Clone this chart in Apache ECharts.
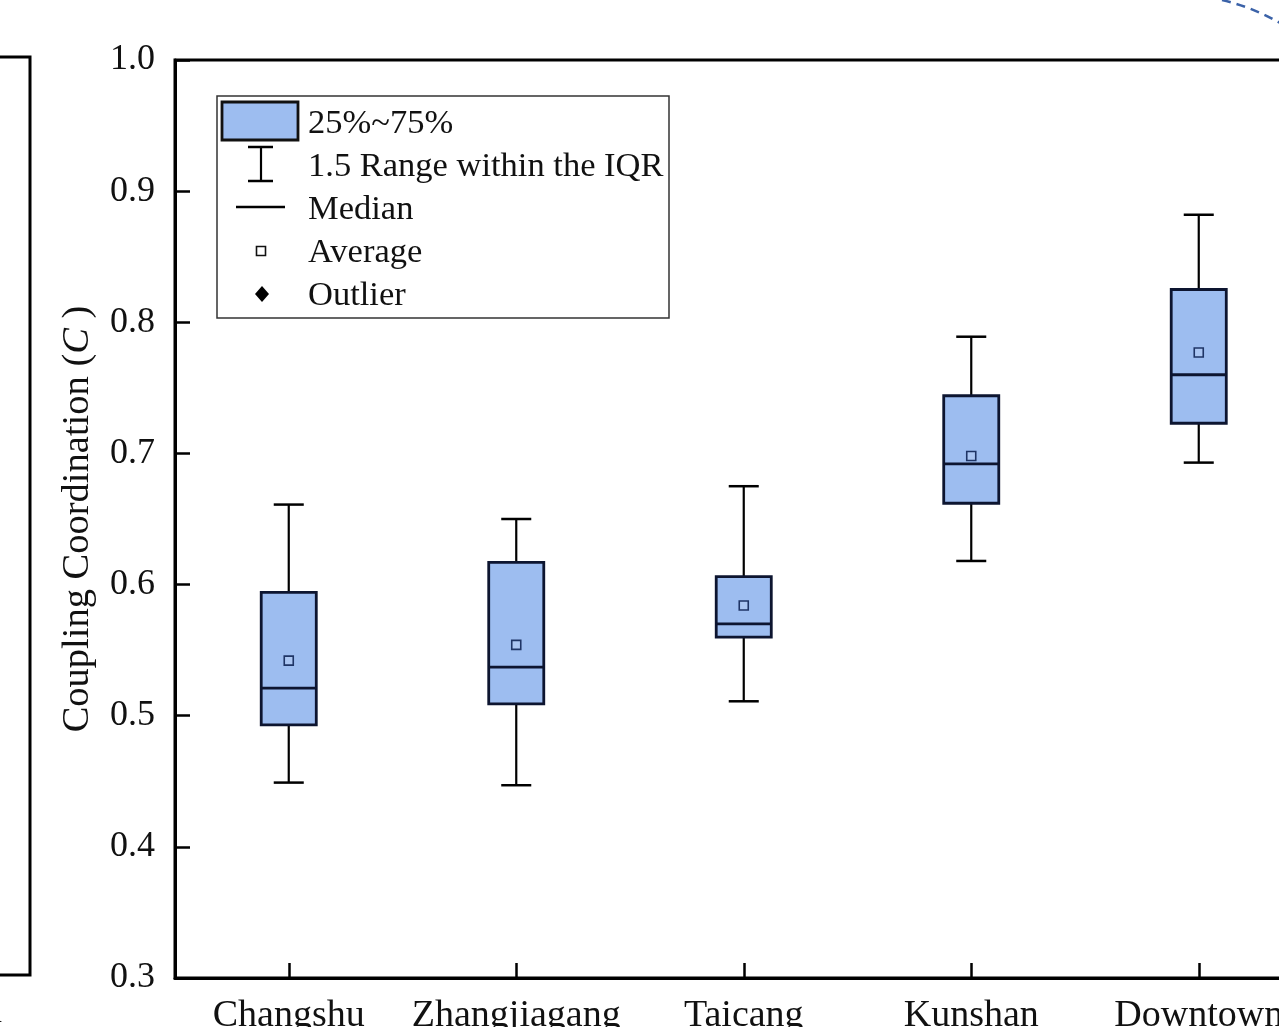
<!DOCTYPE html>
<html>
<head>
<meta charset="utf-8">
<script src="https://cdn.jsdelivr.net/npm/echarts@6/dist/echarts.min.js"></script>
<style>
html,body{margin:0;padding:0;background:#fff;}
#chart{width:1279px;height:1027px;}
</style>
</head>
<body>
<div id="chart"></div>
<script>
// ---- data ----
var categories = ['Changshu', 'Zhangjiagang', 'Taicang', 'Kunshan', 'Downtown'];
var lowerWhisker = [0.449, 0.447, 0.511, 0.618, 0.693];
var q1Values     = [0.493, 0.509, 0.560, 0.662, 0.723];
var medianValues = [0.521, 0.537, 0.570, 0.692, 0.760];
var q3Values     = [0.594, 0.617, 0.606, 0.744, 0.825];
var upperWhisker = [0.661, 0.650, 0.675, 0.789, 0.882];
var meanValues   = [0.542, 0.554, 0.584, 0.698, 0.777];
var yTicks = { min: 0.3, max: 1.0, interval: 0.1 };
var legendLabels = ['25%~75%', '1.5 Range within the IQR', 'Median', 'Average', 'Outlier'];

var BOX_FILL = '#9dbdf0';
var BOX_EDGE = '#0d1530';
var SERIF = "'Liberation Serif', 'DejaVu Serif', serif";

var boxData = categories.map(function (c, i) {
  return [i, lowerWhisker[i], q1Values[i], medianValues[i], q3Values[i], upperWhisker[i], meanValues[i]];
});

function renderBox(params, api) {
  var idx = api.value(0);
  var pLow = api.coord([idx, api.value(1)]);
  var pQ1 = api.coord([idx, api.value(2)]);
  var pMed = api.coord([idx, api.value(3)]);
  var pQ3 = api.coord([idx, api.value(4)]);
  var pHigh = api.coord([idx, api.value(5)]);
  var pMean = api.coord([idx, api.value(6)]);
  var band = api.size([1, 0])[0];
  var bw = band * 0.242;
  var cw = band * 0.132;
  var x = pQ1[0];
  var ms = 9;
  return {
    type: 'group',
    children: [
      { type: 'line', shape: { x1: x, y1: pQ3[1], x2: x, y2: pHigh[1] }, style: { stroke: '#000', lineWidth: 2.2 } },
      { type: 'line', shape: { x1: x, y1: pQ1[1], x2: x, y2: pLow[1] }, style: { stroke: '#000', lineWidth: 2.2 } },
      { type: 'line', shape: { x1: x - cw / 2, y1: pHigh[1], x2: x + cw / 2, y2: pHigh[1] }, style: { stroke: '#000', lineWidth: 2.5 } },
      { type: 'line', shape: { x1: x - cw / 2, y1: pLow[1], x2: x + cw / 2, y2: pLow[1] }, style: { stroke: '#000', lineWidth: 2.5 } },
      { type: 'rect', shape: { x: x - bw / 2, y: pQ3[1], width: bw, height: pQ1[1] - pQ3[1] },
        style: { fill: BOX_FILL, stroke: BOX_EDGE, lineWidth: 2.8 } },
      { type: 'line', shape: { x1: x - bw / 2, y1: pMed[1], x2: x + bw / 2, y2: pMed[1] }, style: { stroke: BOX_EDGE, lineWidth: 2.8 } },
      { type: 'rect', shape: { x: pMean[0] - ms / 2, y: pMean[1] - ms / 2, width: ms, height: ms },
        style: { fill: 'rgba(255,255,255,0.15)', stroke: '#1f3566', lineWidth: 1.6 } }
    ]
  };
}

var chart = echarts.init(document.getElementById('chart'), null, { renderer: 'canvas' });

var rowY = [124, 167, 210, 253, 296];

function legendText(i) {
  return { type: 'text', x: 308, y: rowY[i], style: { text: legendLabels[i], font: '34.5px ' + SERIF, fill: '#111', textVerticalAlign: 'middle' }, z: 11 };
}

var option = {
  backgroundColor: '#fff',
  animation: false,
  grid: { left: 175, top: 60, width: 1137.5, height: 918, outerBoundsMode: 'none', containLabel: false,
    show: true, borderColor: '#000', borderWidth: 3, backgroundColor: 'transparent' },
  xAxis: {
    type: 'category',
    data: categories,
    boundaryGap: true,
    axisLine: { show: true, lineStyle: { color: '#000', width: 3 } },
    axisTick: { show: true, inside: true, alignWithLabel: true, interval: 0, length: 15, lineStyle: { color: '#000', width: 2.5 } },
    axisLabel: { show: true, interval: 0, hideOverlap: false, color: '#111', fontFamily: SERIF, fontSize: 38, margin: 19 },
    splitLine: { show: false }
  },
  yAxis: {
    type: 'value',
    min: yTicks.min, max: yTicks.max, interval: yTicks.interval,
    name: '{a|Coupling Coordination (}{b|C}{a| )}',
    nameLocation: 'middle',
    nameGap: 78,
    nameTextStyle: {
      rich: {
        a: { fontFamily: SERIF, fontSize: 38.5, color: '#111' },
        b: { fontFamily: SERIF, fontSize: 38.5, color: '#111', fontStyle: 'italic' }
      }
    },
    axisLine: { show: true, lineStyle: { color: '#000', width: 3 } },
    axisTick: { show: true, inside: true, length: 15, lineStyle: { color: '#000', width: 2.5 } },
    axisLabel: { color: '#111', fontFamily: SERIF, fontSize: 36, margin: 20,
      formatter: function (v) { return v.toFixed(1); } },
    splitLine: { show: false }
  },
  series: [{
    type: 'custom',
    renderItem: renderBox,
    data: boxData,
    encode: { x: 0, y: [1, 2, 3, 4, 5, 6] },
    z: 5
  }],
  graphic: [
    { type: 'rect', shape: { x: 217, y: 96, width: 452, height: 222 }, style: { fill: '#fff', stroke: '#333', lineWidth: 1.5 }, z: 10 },
    { type: 'rect', shape: { x: 222, y: 102, width: 76, height: 38 }, style: { fill: BOX_FILL, stroke: '#111', lineWidth: 2.8 }, z: 11 },
    { type: 'line', shape: { x1: 261, y1: 147, x2: 261, y2: 181 }, style: { stroke: '#000', lineWidth: 2.2 }, z: 11 },
    { type: 'line', shape: { x1: 248, y1: 147, x2: 273, y2: 147 }, style: { stroke: '#000', lineWidth: 2.5 }, z: 11 },
    { type: 'line', shape: { x1: 248, y1: 181, x2: 273, y2: 181 }, style: { stroke: '#000', lineWidth: 2.5 }, z: 11 },
    { type: 'line', shape: { x1: 236, y1: 207, x2: 285, y2: 207 }, style: { stroke: '#000', lineWidth: 2.5 }, z: 11 },
    { type: 'rect', shape: { x: 256.5, y: 246.5, width: 9, height: 9 }, style: { fill: '#fff', stroke: '#111', lineWidth: 1.6 }, z: 11 },
    { type: 'polygon', shape: { points: [[262, 286], [269, 294], [262, 302], [255, 294]] }, style: { fill: '#000' }, z: 11 },
    legendText(0), legendText(1), legendText(2), legendText(3), legendText(4),
    { type: 'polyline', shape: { points: [[-5, 57], [30, 57], [30, 975], [-5, 975]] }, style: { stroke: '#000', lineWidth: 3, fill: null }, z: 3 },
    { type: 'text', x: -15, y: 1030, style: { text: 'n', font: '34px ' + SERIF, fill: '#111', textVerticalAlign: 'bottom' }, z: 3 },
    { type: 'bezierCurve', shape: { x1: 1222, y1: 0, cpx1: 1256, cpy1: 8, x2: 1285, y2: 26 }, style: { stroke: '#3b62a8', lineWidth: 2.5, fill: null, lineDash: [9, 6] }, z: 3 }
  ]
};
chart.setOption(option);
</script>
</body>
</html>
